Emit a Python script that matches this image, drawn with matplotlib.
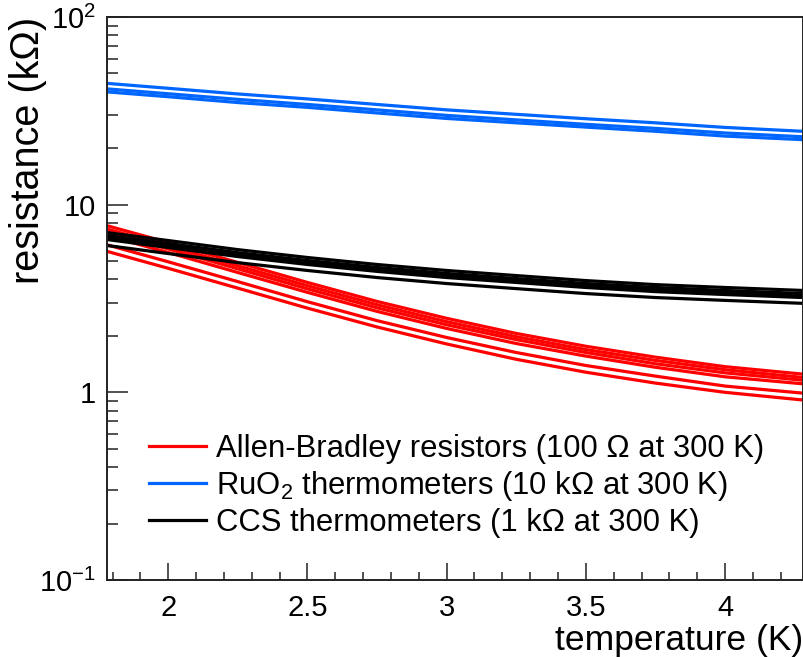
"""Resistance vs temperature for Allen-Bradley, RuO2 and CCS sensors (log y)."""

import matplotlib
matplotlib.use("Agg")
import matplotlib.pyplot as plt
from matplotlib.ticker import (FixedLocator, FixedFormatter, FormatStrFormatter, LogLocator,
                               MultipleLocator, NullFormatter)

plt.rcParams["font.family"] = ["Liberation Sans", "DejaVu Sans"]
plt.rcParams["mathtext.fontset"] = "custom"
plt.rcParams["mathtext.rm"] = "Liberation Sans"
plt.rcParams["mathtext.it"] = "Liberation Sans:italic"

temperature = [1.78, 2.0, 2.25, 2.5, 2.75, 3.0, 3.25, 3.5, 3.75, 4.0, 4.28]

# resistance in kOhm
allen_bradley = [
    [7.73, 6.28, 4.92, 3.85, 3.05, 2.48, 2.06, 1.76, 1.54, 1.37, 1.25],
    [7.42, 6.03, 4.72, 3.70, 2.93, 2.38, 1.98, 1.69, 1.48, 1.32, 1.20],
    [7.15, 5.81, 4.55, 3.56, 2.82, 2.29, 1.91, 1.63, 1.42, 1.27, 1.16],
    [6.84, 5.56, 4.35, 3.41, 2.70, 2.19, 1.82, 1.56, 1.36, 1.21, 1.11],
    [6.11, 4.96, 3.89, 3.04, 2.41, 1.96, 1.63, 1.39, 1.22, 1.08, 0.99],
    [5.64, 4.58, 3.59, 2.81, 2.23, 1.81, 1.50, 1.28, 1.12, 1.00, 0.91],
]
ruo2 = [
    [44.3, 41.7, 38.9, 36.6, 34.2, 32.0, 30.3, 28.7, 27.3, 25.8, 24.6],
    [41.4, 39.0, 36.4, 34.2, 32.0, 29.9, 28.3, 26.8, 25.5, 24.1, 23.0],
    [39.9, 37.6, 35.0, 33.0, 30.8, 28.8, 27.3, 25.9, 24.6, 23.2, 22.2],
]
ccs = [
    [7.10, 6.44, 5.76, 5.23, 4.80, 4.46, 4.19, 3.94, 3.75, 3.62, 3.49],
    [6.84, 6.21, 5.55, 5.04, 4.63, 4.30, 4.04, 3.80, 3.62, 3.49, 3.36],
    [6.68, 6.06, 5.42, 4.92, 4.52, 4.20, 3.94, 3.71, 3.53, 3.41, 3.28],
    [6.52, 5.91, 5.29, 4.80, 4.41, 4.09, 3.85, 3.62, 3.44, 3.32, 3.20],
    [6.06, 5.49, 4.91, 4.46, 4.09, 3.80, 3.57, 3.36, 3.20, 3.09, 2.98],
]

groups = [
    (allen_bradley, "#ff0000", "Allen-Bradley resistors (100 Ω at 300 K)"),
    (ruo2, "#0066ff", "RuO$_2$ thermometers (10 kΩ at 300 K)"),
    (ccs, "#000000", "CCS thermometers (1 kΩ at 300 K)"),
]

y_ticks = [0.1, 1, 10, 100]
y_tick_labels = ["$10^{-1}$", "1", "10", "$10^{2}$"]

fig = plt.figure(figsize=(8.04, 6.57), dpi=100)
ax = fig.add_axes([107 / 804, 1 - 580 / 657, 696 / 804, 563 / 657])

for curves, color, label in groups:
    for i, r in enumerate(curves):
        ax.plot(temperature, r, color=color, lw=2.3, label=label if i == 0 else None)

ax.set_yscale("log")
ax.set_xlim(1.78, 4.28)
ax.set_ylim(0.1, 100)

ax.yaxis.set_major_locator(FixedLocator(y_ticks))
ax.yaxis.set_major_formatter(FixedFormatter(y_tick_labels))
ax.yaxis.set_minor_locator(LogLocator(base=10, subs=range(2, 10)))
ax.yaxis.set_minor_formatter(NullFormatter())
ax.xaxis.set_major_locator(MultipleLocator(0.5))
ax.xaxis.set_major_formatter(FormatStrFormatter("%g"))
ax.xaxis.set_minor_locator(MultipleLocator(0.1))

ax.tick_params(axis="both", which="both", direction="in", top=False, right=False,
               labelsize=21, width=1.1, color="#222222")
ax.tick_params(axis="x", which="major", length=12, pad=10)
ax.tick_params(axis="x", which="minor", length=6)
ax.tick_params(axis="y", which="major", length=15, pad=8)
ax.tick_params(axis="y", which="minor", length=8)
for s in ax.spines.values():
    s.set_linewidth(1.4)
    s.set_color("#222222")

ax.set_xlabel("temperature (K)", fontsize=25.5, ha="right", va="top")
ax.xaxis.set_label_coords(1.0, -0.0782)
ax.set_ylabel("resistance (kΩ)", fontsize=28.5, ha="right")
ax.yaxis.set_label_coords(-0.086, 1.0)

ax.legend(loc="upper left", bbox_to_anchor=(0.042, 0.281), frameon=False, fontsize=22.3,
          handlelength=1.85, handletextpad=0.33, labelspacing=0.16, borderaxespad=0)

fig.savefig("out.png", dpi=100)
